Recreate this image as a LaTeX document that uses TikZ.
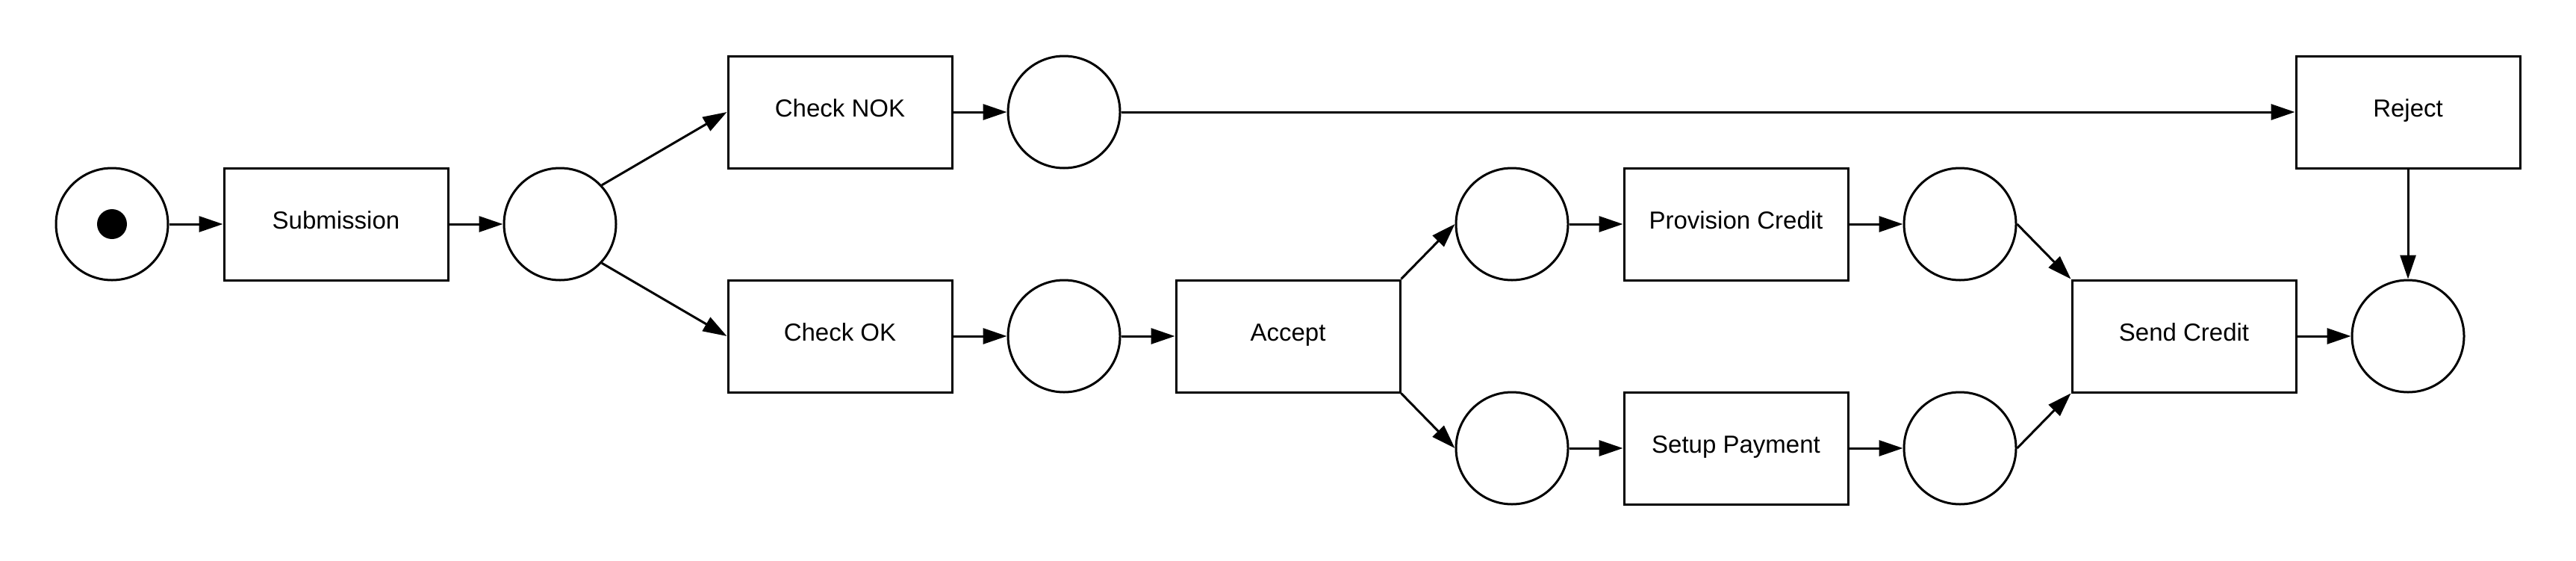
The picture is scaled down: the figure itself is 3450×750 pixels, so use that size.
\documentclass[tikz,border=0pt]{standalone}
\usepackage{fontspec}
\setmainfont{Liberation Sans}
\usetikzlibrary{arrows.meta}
\begin{document}
\begin{tikzpicture}[x=1pt,y=-1pt,
  trans/.style={draw,line width=3pt,minimum width=300pt,minimum height=150pt,inner sep=0pt,
    font=\fontsize{33}{40}\selectfont,text height=12pt,text depth=0pt},
  place/.style={draw,circle,line width=3pt,minimum size=150pt,inner sep=0pt},
  token/.style={fill=black,circle,minimum size=40pt,inner sep=0pt},
  arc/.style={line width=3pt,-{Triangle[length=32pt,width=21pt]}}]
\useasboundingbox (0,0) rectangle (3450,750);
% places
\node[place] (s)  at (150,300) {};
\node[token] (tk) at (150,300) {};
\node[place] (p1) at (750,300) {};
\node[place] (p2) at (1425,150) {};
\node[place] (p3) at (1425,450) {};
\node[place] (p4) at (2025,300) {};
\node[place] (p5) at (2025,600) {};
\node[place] (p6) at (2625,300) {};
\node[place] (p7) at (2625,600) {};
\node[place] (p8) at (3225,450) {};
% transitions
\node[trans] (sub)    at (450,300)  {Submission};
\node[trans] (cnok)   at (1125,150) {Check NOK};
\node[trans] (cok)    at (1125,450) {Check OK};
\node[trans] (acc)    at (1725,450) {Accept};
\node[trans] (prov)   at (2325,300) {Provision Credit};
\node[trans] (setup)  at (2325,600) {Setup Payment};
\node[trans] (send)   at (2925,450) {Send Credit};
\node[trans] (rej)    at (3225,150) {Reject};
% arcs
\draw[arc] (s.east) -- (sub.west);
\draw[arc] (sub.east) -- (p1.west);
\draw[arc] (p1.43) -- (cnok.west);
\draw[arc] (p1.-43) -- (cok.west);
\draw[arc] (cnok.east) -- (p2.west);
\draw[arc] (cok.east) -- (p3.west);
\draw[arc] (p2.east) -- (rej.west);
\draw[arc] (p3.east) -- (acc.west);
\draw[arc] (acc.north east) -- (p4.west);
\draw[arc] (acc.south east) -- (p5.west);
\draw[arc] (p4.east) -- (prov.west);
\draw[arc] (p5.east) -- (setup.west);
\draw[arc] (prov.east) -- (p6.west);
\draw[arc] (setup.east) -- (p7.west);
\draw[arc] (p6.east) -- (send.north west);
\draw[arc] (p7.east) -- (send.south west);
\draw[arc] (send.east) -- (p8.west);
\draw[arc] (rej.south) -- (p8.north);
\end{tikzpicture}
\end{document}
